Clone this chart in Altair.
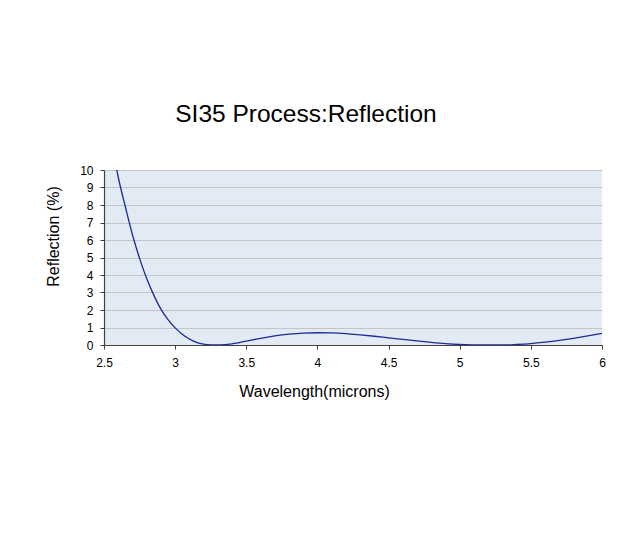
import altair as alt
import pandas as pd

# Wavelength (microns) and reflection (%)
wavelength = [2.55, 2.59, 2.60, 2.65, 2.70, 2.75, 2.80, 2.85, 2.90, 2.95, 3.00,
              3.05, 3.10, 3.15, 3.20, 3.25, 3.30, 3.35, 3.40, 3.50, 3.60, 3.70,
              3.80, 3.90, 4.00, 4.10, 4.20, 4.30, 4.40, 4.50, 4.60, 4.70, 4.80,
              4.90, 5.00, 5.10, 5.20, 5.30, 5.40, 5.50, 5.60, 5.70, 5.80, 5.90, 6.00]
reflection = [11.6, 10.0, 9.6, 7.9, 6.3, 4.95, 3.8, 2.85, 2.05, 1.45, 0.98,
              0.62, 0.34, 0.15, 0.05, 0.01, 0.0, 0.02, 0.07, 0.22, 0.38, 0.52,
              0.62, 0.68, 0.70, 0.69, 0.65, 0.58, 0.50, 0.41, 0.32, 0.23, 0.15,
              0.08, 0.03, 0.01, 0.0, 0.0, 0.03, 0.08, 0.16, 0.26, 0.38, 0.52, 0.67]

x_ticks = [2.5, 3, 3.5, 4, 4.5, 5, 5.5, 6]
y_ticks = list(range(0, 11))

df = pd.DataFrame({"wl": wavelength, "r": reflection})

FONT = "Liberation Sans"

chart = alt.Chart(df).mark_line(
    clip=True, color="#1a2a96", strokeWidth=1.3, interpolate="monotone"
).encode(
    x=alt.X("wl:Q",
            scale=alt.Scale(domain=[2.5, 6], nice=False, zero=False),
            axis=alt.Axis(values=x_ticks, format=".1~f", title="Wavelength(microns)",
                          grid=False, tickSize=4, labelPadding=8, labelFlush=False,
                          labelFontSize=12, titleFontSize=16,
                          titleFontWeight="normal",
                          titleX=210, titleY=51, titleBaseline="alphabetic",
                          titleAlign="center")),
    y=alt.Y("r:Q",
            scale=alt.Scale(domain=[0, 10], nice=False),
            axis=alt.Axis(values=y_ticks, title="Reflection (%)",
                          grid=True, gridColor="#c4c4c4", gridWidth=1,
                          tickSize=4, labelPadding=7, labelFlush=False,
                          labelFontSize=12, titleFontSize=16,
                          titleFontWeight="normal",
                          titleX=-51, titleY=66, titleAngle=-90,
                          titleBaseline="middle", titleAlign="center")),
).properties(
    width=498,
    height=175,
    padding={"left": 96, "top": 162, "right": 21, "bottom": 183},
    autosize=alt.AutoSizeParams(type="none"),
    title=alt.TitleParams("SI35 Process:Reflection", fontSize=24.5,
                          fontWeight="normal", font=FONT, color="#000000",
                          anchor="middle", dx=-47, offset=18,
                          baseline="alphabetic"),
    background="#ffffff",
).configure_view(
    fill="#e2eaf4", stroke=None
).configure_axis(
    labelFont=FONT, titleFont=FONT, labelColor="#000000", titleColor="#000000",
    domainColor="#404040", tickColor="#404040", domainWidth=1.2
)

chart.save("out.html", embed_options={"renderer": "svg", "actions": False})
